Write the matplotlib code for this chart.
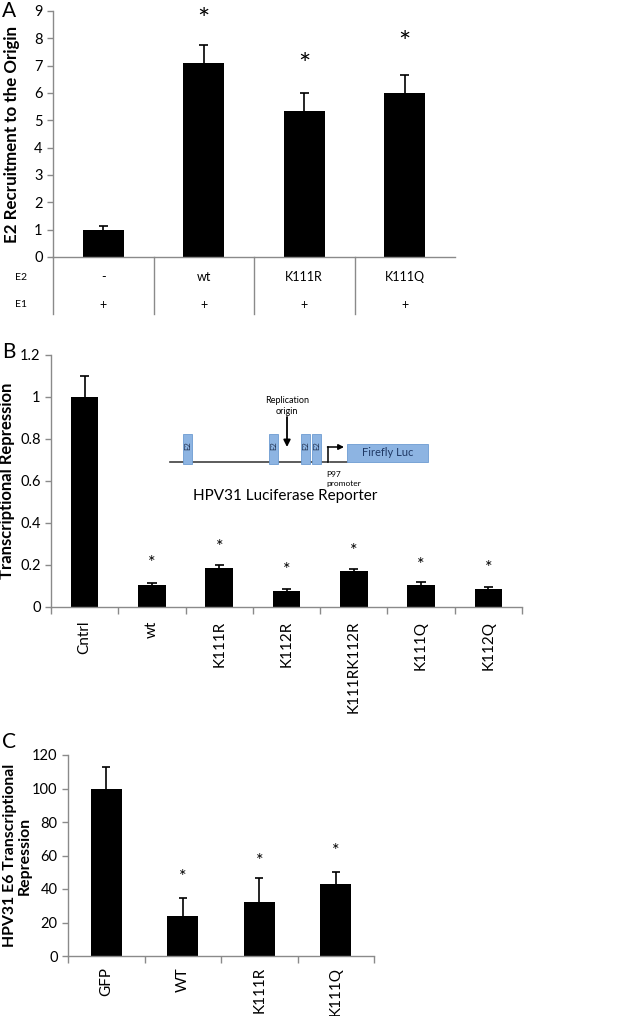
import numpy as np
import matplotlib.pyplot as plt
from matplotlib.patches import Rectangle

plt.rcParams['font.family'] = ['Lato', 'DejaVu Sans']

# Panel A: E2 recruitment to the origin
a_e2 = ['-', 'wt', 'K111R', 'K111Q']
a_e1 = ['+', '+', '+', '+']
a_vals = [1.0, 7.1, 5.35, 6.0]
a_err = [0.15, 0.65, 0.65, 0.65]
a_star = [None, 8.65, 7.0, 7.8]

# Panel B: transcriptional repression (luciferase)
b_labels = ['Cntrl', 'wt', 'K111R', 'K112R', 'K111RK112R', 'K111Q', 'K112Q']
b_vals = [1.0, 0.105, 0.185, 0.078, 0.17, 0.105, 0.085]
b_err = [0.10, 0.010, 0.015, 0.008, 0.010, 0.015, 0.008]
b_star = [None, 0.208, 0.288, 0.176, 0.269, 0.20, 0.186]

# Panel C: HPV31 E6 transcriptional repression
c_labels = ['GFP', 'WT', 'K111R', 'K111Q']
c_vals = [100, 23.8, 32, 42.8]
c_err = [13, 11, 14.6, 7.3]
c_star = [None, 47.4, 56.7, 62.7]

GRAY = '#8a8a8a'
W, H = 625, 1016


def px_axes(x0, y0, x1, y1):
    """axes from pixel box (top-left origin)"""
    return fig.add_axes([x0 / W, 1 - y1 / H, (x1 - x0) / W, (y1 - y0) / H])


def style(ax):
    for s in ['top', 'right']:
        ax.spines[s].set_visible(False)
    for s in ['left', 'bottom']:
        ax.spines[s].set_color(GRAY)
        ax.spines[s].set_linewidth(1.0)
    ax.tick_params(axis='y', colors=GRAY, labelcolor='black', length=4,
                   width=1, direction='out', labelsize=10.5)


def bars(ax, vals, err, lower=False, cap=0.09):
    x = np.arange(len(vals))
    vals = np.asarray(vals, float)
    err = np.asarray(err, float)
    ax.bar(x, vals, width=0.41, color='black', zorder=2)
    top = vals + err
    bot = vals - err if lower else vals
    ax.vlines(x, bot, top, color='black', lw=1.2, zorder=3)
    ax.hlines(top, x - cap / 2, x + cap / 2, color='black', lw=1.2, zorder=3)
    if lower:
        ax.hlines(bot, x - cap / 2, x + cap / 2, color='black', lw=1.2,
                  zorder=3)
    ax.set_xlim(-0.5, len(vals) - 0.5)
    return x


fig = plt.figure(figsize=(W / 100, H / 100), dpi=100)

# ---------------- A ----------------
axA = px_axes(53, 11, 455, 257)
style(axA)
x = bars(axA, a_vals, a_err, cap=0.09)
axA.set_ylim(0, 9)
axA.set_yticks(range(0, 10))
axA.set_xticks([])
for xi, s in zip(x, a_star):
    if s is not None:
        axA.text(xi, s, '*', ha='center', va='center', fontsize=21)
axA.set_ylabel('E2 Recruitment to the Origin', fontsize=12.2,
               fontweight='bold')
axA.yaxis.set_label_coords(-0.082, 0.5)
tr = axA.get_xaxis_transform()
for b in np.arange(-0.5, len(a_vals) - 0.5, 1.0):
    axA.plot([b, b], [0, -0.232], color=GRAY, lw=1, transform=tr,
             clip_on=False)
for xi, e2, e1 in zip(x, a_e2, a_e1):
    axA.text(xi, -0.082, e2, ha='center', va='center', fontsize=9,
             transform=tr)
    axA.text(xi, -0.195, e1, ha='center', va='center', fontsize=9,
             transform=tr)
axA.text(-0.08, -0.082, 'E2', ha='center', va='center', fontsize=7.5,
         transform=axA.transAxes)
axA.text(-0.08, -0.195, 'E1', ha='center', va='center', fontsize=7.5,
         transform=axA.transAxes)
fig.text(2 / W, 1 - 11 / H, 'A', fontsize=15, va='center', ha='left')

# ---------------- B ----------------
axB = px_axes(51, 355, 522, 607)
style(axB)
x = bars(axB, b_vals, b_err, lower=True, cap=0.14)
axB.set_ylim(0, 1.2)
axB.set_yticks([0, 0.2, 0.4, 0.6, 0.8, 1.0, 1.2],
               ['0', '0.2', '0.4', '0.6', '0.8', '1', '1.2'])
axB.set_xticks(x, b_labels, rotation=90, fontsize=11)
axB.set_xticks(np.arange(-0.5, len(b_vals)), minor=True)
axB.tick_params(axis='x', which='major', length=0, pad=10)
axB.tick_params(axis='x', which='minor', length=5, color=GRAY, width=1)
for xi, s in zip(x, b_star):
    if s is not None:
        axB.text(xi, s, '*', ha='center', va='center', fontsize=13)
axB.set_ylabel('Transcriptional Repression', fontsize=12,
               fontweight='bold')
axB.yaxis.set_label_coords(-0.076, 0.5)
fig.text(2 / W, 1 - 352 / H, 'B', fontsize=15, va='center', ha='left')

# inset: HPV31 luciferase reporter diagram (pixel coordinates)
axI = px_axes(160, 390, 440, 505)
axI.set_xlim(160, 440)
axI.set_ylim(505, 390)
axI.axis('off')
box_fc, box_ec = '#8db4e2', '#6d9bd1'
axI.plot([170, 328], [462, 462], color='#404040', lw=1.2)
axI.plot([330, 347], [462, 462], color='#404040', lw=1.2)
for bx in [183, 269, 301, 312]:
    axI.add_patch(Rectangle((bx, 434), 9, 30, fc=box_fc, ec=box_ec, lw=0.6,
                            zorder=3))
    axI.text(bx + 4.5, 446, 'E2', rotation=90, ha='center', va='center',
             fontsize=5.5, color='#1f2f4f', zorder=4)
axI.add_patch(Rectangle((347, 444), 81, 18, fc=box_fc, ec=box_ec, lw=0.6,
                        zorder=3))
axI.text(387.5, 453, 'Firefly Luc', ha='center', va='center', fontsize=8,
         color='#1f3864', zorder=4)
axI.plot([328, 328], [462, 447], color='black', lw=1.1)
axI.annotate('', xy=(344, 447), xytext=(327.5, 447),
             arrowprops=dict(arrowstyle='-|>', color='black', lw=1.1,
                             mutation_scale=8, shrinkA=0, shrinkB=0))
axI.annotate('', xy=(287, 447), xytext=(287, 417),
             arrowprops=dict(arrowstyle='-|>', color='black', lw=1.3,
                             mutation_scale=10, shrinkA=0, shrinkB=0))
axI.text(287, 406, 'Replication\norigin', ha='center', va='center',
         fontsize=6.5, linespacing=1.2)
axI.text(326, 479, 'P97\npromoter', ha='left', va='center', fontsize=6,
         linespacing=1.3)
axI.text(285, 496, 'HPV31 Luciferase Reporter', ha='center', va='center',
         fontsize=11)

# ---------------- C ----------------
axC = px_axes(68, 755, 374, 956)
style(axC)
x = bars(axC, c_vals, c_err, cap=0.11)
axC.set_ylim(0, 120)
axC.set_yticks(range(0, 121, 20))
axC.set_xticks(x, c_labels, rotation=90, fontsize=11)
axC.set_xticks(np.arange(-0.5, len(c_vals)), minor=True)
axC.tick_params(axis='x', which='major', length=0, pad=8)
axC.tick_params(axis='x', which='minor', length=5, color=GRAY, width=1)
for xi, s in zip(x, c_star):
    if s is not None:
        axC.text(xi, s, '*', ha='center', va='center', fontsize=13)
axC.set_ylabel('HPV31 E6 Transcriptional\nRepression', fontsize=11.4,
               fontweight='bold', linespacing=1.05)
axC.yaxis.set_label_coords(-0.118, 0.5)
fig.text(2 / W, 1 - 742 / H, 'C', fontsize=15, va='center', ha='left')

plt.savefig('out.png', dpi=100)
plt.close()
